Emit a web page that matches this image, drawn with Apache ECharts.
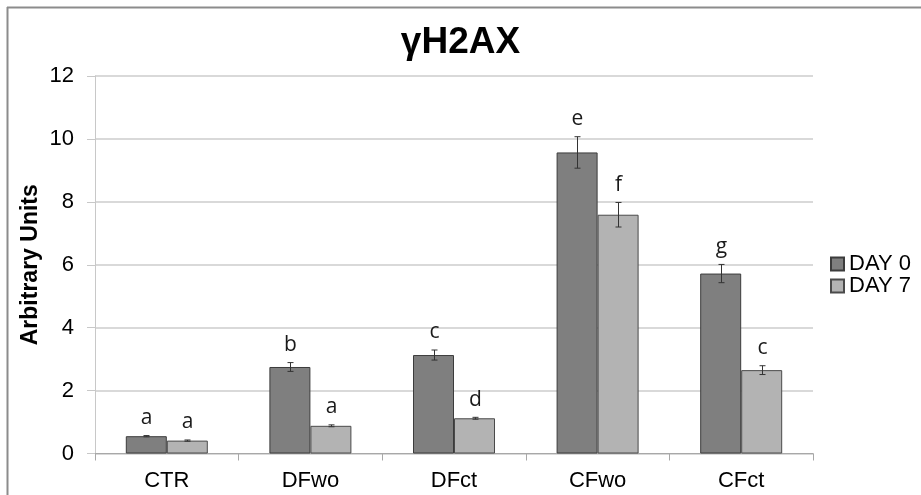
<!DOCTYPE html>
<html>
<head>
<meta charset="utf-8">
<script src="https://cdn.jsdelivr.net/npm/echarts@6/dist/echarts.min.js"></script>
<style>
  html, body { margin: 0; padding: 0; background: #fff; }
  #chart { width: 921px; height: 495px; }
</style>
</head>
<body>
<div id="chart"></div>
<script>
// Group labels on the category axis
const categories = ['CTR', 'DFwo', 'DFct', 'CFwo', 'CFct'];
// Mean γH2AX level per group
const day0 = [0.55, 2.75, 3.13, 9.57, 5.72];
const day7 = [0.41, 0.88, 1.12, 7.59, 2.65];
// Error (± half-range) per group
const err0 = [0.02, 0.14, 0.16, 0.50, 0.29];
const err7 = [0.02, 0.03, 0.03, 0.39, 0.14];
// Significance letters above each bar
const letters0 = ['a', 'b', 'c', 'e', 'g'];
const letters7 = ['a', 'a', 'd', 'f', 'c'];
// Y axis ticks
const yTicks = [0, 2, 4, 6, 8, 10, 12];

const BAR_W = 41;
const chart = echarts.init(document.getElementById('chart'));

function errorSeries(values, errs, letters, offset) {
  return {
    type: 'custom',
    z: 5,
    silent: true,
    data: values.map((v, i) => [i, v, errs[i]]),
    encode: { x: 0, y: 1 },
    renderItem(params, api) {
      const i = api.value(0), v = api.value(1), e = api.value(2);
      const c = api.coord([i, v]);
      const hi = api.coord([i, v + e]);
      const lo = api.coord([i, v - e]);
      const x = Math.round(c[0] + offset) + 0.5;
      const cap = 3;
      const ls = { stroke: '#333', lineWidth: 1 };
      return {
        type: 'group',
        children: [
          { type: 'line', shape: { x1: x, y1: hi[1], x2: x, y2: lo[1] }, style: ls },
          { type: 'line', shape: { x1: x - cap, y1: hi[1], x2: x + cap, y2: hi[1] }, style: ls },
          { type: 'line', shape: { x1: x - cap, y1: lo[1], x2: x + cap, y2: lo[1] }, style: ls },
          {
            type: 'text',
            x: x,
            y: hi[1] - 7,
            style: {
              text: letters[params.dataIndex],
              fill: '#1a1a1a',
              font: '21px "Open Sans"',
              align: 'center',
              verticalAlign: 'bottom'
            }
          }
        ]
      };
    }
  };
}

const option = {
  animation: false,
  backgroundColor: '#fff',
  title: {
    text: 'γH2AX',
    left: 'center',
    top: 19,
    textStyle: { fontFamily: 'Liberation Sans', fontSize: 37, fontWeight: 'bold', color: '#000' }
  },
  graphic: [
    { type: 'line', shape: { x1: 7, y1: 7.5, x2: 921, y2: 7.5 }, style: { stroke: '#8c8c8c', lineWidth: 2 } },
    { type: 'line', shape: { x1: 7.5, y1: 7, x2: 7.5, y2: 495 }, style: { stroke: '#8c8c8c', lineWidth: 2 } }
  ],
  legend: {
    data: ['DAY 0', 'DAY 7'],
    orient: 'vertical',
    left: 830,
    top: 253,
    padding: 0,
    itemWidth: 13,
    itemHeight: 13,
    itemGap: 0,
    icon: 'rect',
    textStyle: { fontFamily: 'Liberation Sans', fontSize: 22, lineHeight: 21, color: '#000' }
  },
  grid: { left: 95, right: 108, top: 76, bottom: 41.5 },
  xAxis: {
    type: 'category',
    data: categories,
    axisLine: { lineStyle: { color: '#a8a8a8', width: 1 } },
    axisTick: { show: true, length: 7, lineStyle: { color: '#a8a8a8' } },
    axisLabel: { fontFamily: 'Liberation Sans', fontSize: 22, color: '#000', margin: 16 }
  },
  yAxis: {
    type: 'value',
    min: yTicks[0],
    max: yTicks[yTicks.length - 1],
    interval: 2,
    name: 'Arbitrary Units',
    nameLocation: 'middle',
    nameGap: 53,
    nameMoveOverlap: false,
    nameTextStyle: { fontFamily: 'Liberation Sans', fontSize: 23, fontWeight: 'bold', color: '#000' },
    axisLine: { show: true, lineStyle: { color: '#c8c8c8', width: 1 } },
    axisTick: { show: true, length: 8, lineStyle: { color: '#c8c8c8' } },
    axisLabel: { fontFamily: 'Liberation Sans', fontSize: 22, color: '#000', margin: 21 },
    splitLine: { lineStyle: { color: '#cdcdcd', width: 1.5 } }
  },
  series: [
    {
      name: 'DAY 0',
      type: 'bar',
      data: day0,
      barWidth: BAR_W,
      barGap: '0%',
      itemStyle: { color: '#7f7f7f', borderColor: '#3c3c3c', borderWidth: 1 }
    },
    {
      name: 'DAY 7',
      type: 'bar',
      data: day7,
      barWidth: BAR_W,
      barGap: '0%',
      itemStyle: { color: '#b3b3b3', borderColor: '#4a4a4a', borderWidth: 1 }
    },
    errorSeries(day0, err0, letters0, -BAR_W / 2),
    errorSeries(day7, err7, letters7, BAR_W / 2)
  ]
};

chart.setOption(option);
</script>
</body>
</html>
